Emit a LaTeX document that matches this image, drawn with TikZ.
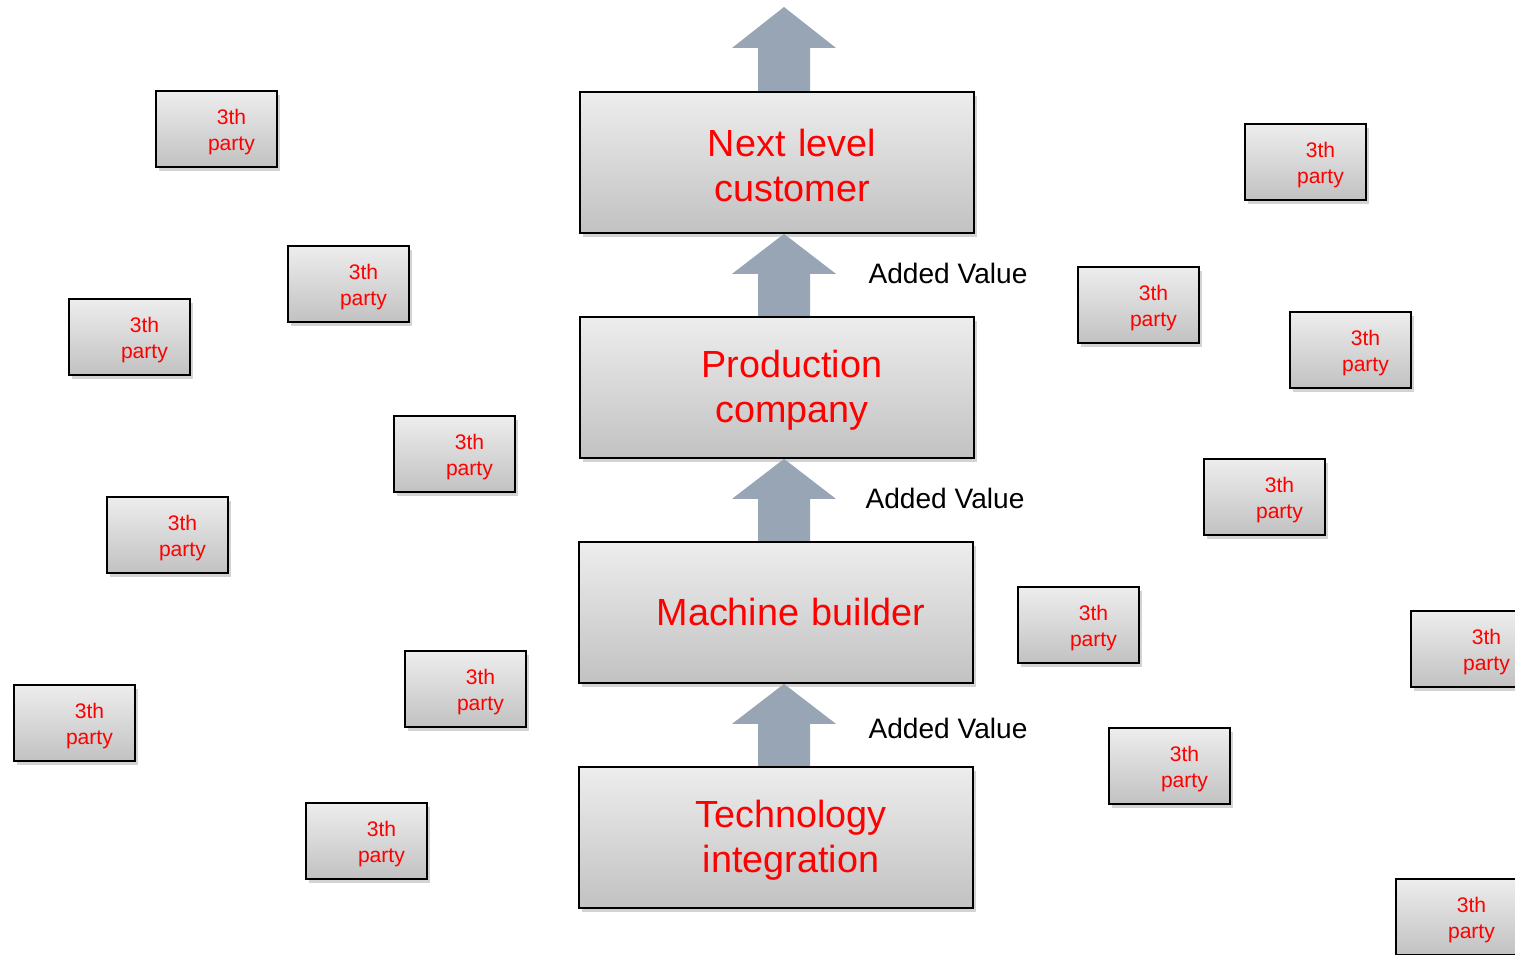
\documentclass[tikz,border=0pt]{standalone}
\usepackage{fontspec}
\setmainfont{Liberation Sans}
\usetikzlibrary{shadows}
\definecolor{arrowgray}{HTML}{98A5B5}
\definecolor{txtred}{HTML}{FF0000}
\tikzset{
  px/.style={x=0.02cm,y=-0.02cm},
  boxbase/.style={draw=black, line width=1.1pt, top color=gray!14, bottom color=gray!48,
    drop shadow={shadow xshift=0.06cm, shadow yshift=-0.08cm, opacity=0.35}},
  party/.style={boxbase, minimum width=2.42cm, minimum height=1.52cm, inner sep=0pt,
    text width=2.42cm, align=center, text=txtred,
    font=\fontsize{12}{14.7}\selectfont, anchor=north west},
  bigbox/.style={boxbase, minimum width=7.88cm, minimum height=2.82cm, inner sep=0pt,
    text width=7.88cm, align=center, text=txtred,
    font=\fontsize{21.5}{25.5}\selectfont, anchor=north west},
  fatarrow/.style={fill=arrowgray, draw=none},
  addval/.style={font=\fontsize{16}{19}\selectfont, text=black}
}
\newcommand{\pp}{\rule{0pt}{12pt}\hspace*{0.6cm}3th\\\hspace*{0.6cm}party}
\newcommand{\bs}{\hspace*{0.6cm}}
\newcommand{\bst}{\rule{0pt}{19pt}\hspace*{0.6cm}}
\begin{document}
\begin{tikzpicture}[px]
\useasboundingbox (0,0) rectangle (1515,955);
\coordinate (top) at (784,7);
% main boxes
\node[bigbox] (next) at (579,91) {\bst Next level\\\bs customer};
\node[bigbox] (prod) at (579,316) {\bst Production\\\bs company};
\node[bigbox] (mach) at (578,541) {\bs Machine builder};
\node[bigbox] (tech) at (578,766) {\bst Technology\\\bs integration};
% arrows
\fill[fatarrow] (top) -- (836,48) -- (810,48) -- (next.north -| 810,0) -- (next.north -| 758,0) -- (758,48) -- (732,48) -- cycle;
\fill[fatarrow] (next.south -| 784,0) -- ([yshift=-0.8cm]next.south -| 836,0) -- ([yshift=-0.8cm]next.south -| 810,0) -- (prod.north -| 810,0) -- (prod.north -| 758,0) -- ([yshift=-0.8cm]next.south -| 758,0) -- ([yshift=-0.8cm]next.south -| 732,0) -- cycle;
\fill[fatarrow] (prod.south -| 784,0) -- ([yshift=-0.8cm]prod.south -| 836,0) -- ([yshift=-0.8cm]prod.south -| 810,0) -- (mach.north -| 810,0) -- (mach.north -| 758,0) -- ([yshift=-0.8cm]prod.south -| 758,0) -- ([yshift=-0.8cm]prod.south -| 732,0) -- cycle;
\fill[fatarrow] (mach.south -| 784,0) -- ([yshift=-0.8cm]mach.south -| 836,0) -- ([yshift=-0.8cm]mach.south -| 810,0) -- (tech.north -| 810,0) -- (tech.north -| 758,0) -- ([yshift=-0.8cm]mach.south -| 758,0) -- ([yshift=-0.8cm]mach.south -| 732,0) -- cycle;
% labels
\node[addval] (av1) at (948,273) {Added Value};
\node[addval] (av2) at (945,498) {Added Value};
\node[addval] (av3) at (948,728) {Added Value};
% third parties left
\node[party] (p1) at (155,90) {\pp};
\node[party] (p2) at (287,245) {\pp};
\node[party] (p3) at (68,298) {\pp};
\node[party] (p4) at (393,415) {\pp};
\node[party] (p5) at (106,496) {\pp};
\node[party] (p6) at (404,650) {\pp};
\node[party] (p7) at (13,684) {\pp};
\node[party] (p8) at (305,802) {\pp};
% third parties right
\node[party] (p9) at (1244,123) {\pp};
\node[party] (p10) at (1077,266) {\pp};
\node[party] (p11) at (1289,311) {\pp};
\node[party] (p12) at (1203,458) {\pp};
\node[party] (p13) at (1017,586) {\pp};
\node[party] (p14) at (1410,610) {\pp};
\node[party] (p15) at (1108,727) {\pp};
\node[party] (p16) at (1395,878) {\pp};
\end{tikzpicture}
\end{document}
